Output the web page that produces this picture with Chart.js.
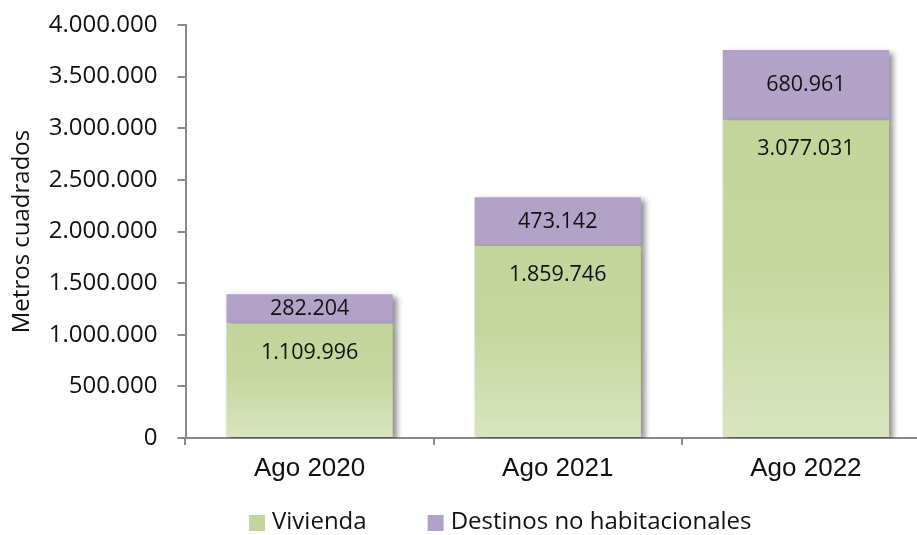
<!DOCTYPE html>
<html>
<head>
<meta charset="utf-8">
<script src="https://cdn.jsdelivr.net/npm/chart.js@4.4.0/dist/chart.umd.min.js"></script>
<style>
  html, body { margin: 0; padding: 0; background: #ffffff; overflow: hidden; }
  #wrap { position: absolute; left: 0; top: 0; }
</style>
</head>
<body>
<div id="wrap"><canvas id="chart" width="930" height="535"></canvas></div>
<script>
// Superficie autorizada (m²) por destino
const categories = ['Ago 2020', 'Ago 2021', 'Ago 2022'];
const vivienda = [1109996, 1859746, 3077031];
const noHabitacional = [282204, 473142, 680961];
const seriesNames = ['Vivienda', 'Destinos no habitacionales'];
const yTickValues = [0, 500000, 1000000, 1500000, 2000000, 2500000, 3000000, 3500000, 4000000];
const yTitle = 'Metros cuadrados';

const GREEN = '#c4d69c';
const PURPLE = '#b3a2c7';
const AXIS = '#8a8a8a';
const SANS = '"Open Sans", "Noto Sans", sans-serif';

// Miles con punto
function fmt(v) {
  return String(Math.round(v)).replace(/\B(?=(\d{3})+(?!\d))/g, '.');
}

// Degradado vertical de cada barra verde, más claro hacia la base
function greenFill(ctx) {
  const chart = ctx.chart;
  if (!chart.chartArea || ctx.type !== 'data') return GREEN;
  const y = chart.scales.y;
  const top = y.getPixelForValue(vivienda[ctx.dataIndex]);
  const bottom = y.getPixelForValue(0);
  const g = chart.ctx.createLinearGradient(0, top, 0, bottom);
  g.addColorStop(0, '#c3d59b');
  g.addColorStop(0.45, '#c5d79e');
  g.addColorStop(1, '#d9e5c0');
  return g;
}

// Sombra de las barras y rótulos de valor
const barDecor = {
  id: 'barDecor',
  beforeDatasetsDraw(chart) {
    const c = chart.ctx;
    c.save();
    c.shadowColor = 'rgba(0,0,0,0.45)';
    c.shadowBlur = 6;
    c.shadowOffsetX = 4;
    c.shadowOffsetY = 3;
  },
  afterDatasetsDraw(chart) {
    const c = chart.ctx;
    c.restore();
    c.save();
    c.font = '21.5px ' + SANS;
    c.fillStyle = '#111111';
    c.textAlign = 'center';
    c.textBaseline = 'middle';
    const m0 = chart.getDatasetMeta(0).data;
    const m1 = chart.getDatasetMeta(1).data;
    categories.forEach((_, i) => {
      const g = m0[i], p = m1[i];
      c.fillText(fmt(vivienda[i]), g.x, g.y + 29);
      c.fillText(fmt(noHabitacional[i]), p.x, (p.y + p.base) / 2);
    });
    c.restore();
  }
};

// Leyenda inferior
const bottomLegend = {
  id: 'bottomLegend',
  afterDraw(chart) {
    const c = chart.ctx;
    const colors = [GREEN, PURPLE];
    c.save();
    c.font = '24px ' + SANS;
    c.textAlign = 'left';
    c.textBaseline = 'alphabetic';
    let x = 249;
    const box = 16, gap = 7, itemGap = 61, baseY = 529;
    seriesNames.forEach((name, i) => {
      c.fillStyle = colors[i];
      c.fillRect(x, baseY - 14, box, box);
      c.fillStyle = '#111111';
      c.fillText(name, x + box + gap, baseY);
      x += box + gap + c.measureText(name).width + itemGap;
    });
    c.restore();
  }
};

new Chart(document.getElementById('chart'), {
  type: 'bar',
  data: {
    labels: categories,
    datasets: [
      { label: seriesNames[0], data: vivienda, backgroundColor: greenFill, borderWidth: 0 },
      { label: seriesNames[1], data: noHabitacional, backgroundColor: PURPLE, borderWidth: 0 }
    ]
  },
  options: {
    responsive: false,
    animation: false,
    devicePixelRatio: 1,
    layout: { padding: { top: 25, right: 0, bottom: 29, left: 0 } },
    datasets: { bar: { barPercentage: 0.67, categoryPercentage: 1 } },
    plugins: {
      legend: { display: false },
      tooltip: { enabled: false }
    },
    scales: {
      x: {
        stacked: true,
        offset: true,
        afterFit(s) { s.height = 68; },
        border: { display: true, color: AXIS, width: 2 },
        grid: { display: true, offset: true, drawOnChartArea: false, drawTicks: true, tickLength: 7, color: AXIS, lineWidth: 2 },
        ticks: { color: '#111111', padding: 8, font: { family: '"Liberation Sans", Arial, sans-serif', size: 26 } }
      },
      y: {
        stacked: true,
        min: 0,
        max: yTickValues[yTickValues.length - 1],
        afterFit(s) { s.width = 185.5; s.paddingTop = 0; s.paddingBottom = 0; },
        afterBuildTicks(s) { s.ticks = yTickValues.map(v => ({ value: v })); },
        border: { display: true, color: AXIS, width: 2 },
        grid: { display: true, drawOnChartArea: false, drawTicks: true, tickLength: 8, color: AXIS, lineWidth: 2 },
        ticks: { color: '#111111', padding: 20, font: { family: SANS, size: 24 }, callback: v => fmt(v) },
        title: { display: true, text: yTitle, color: '#111111', font: { family: SANS, size: 24 }, padding: { top: 8, bottom: 0 } }
      }
    }
  },
  plugins: [barDecor, bottomLegend]
});
</script>
</body>
</html>
